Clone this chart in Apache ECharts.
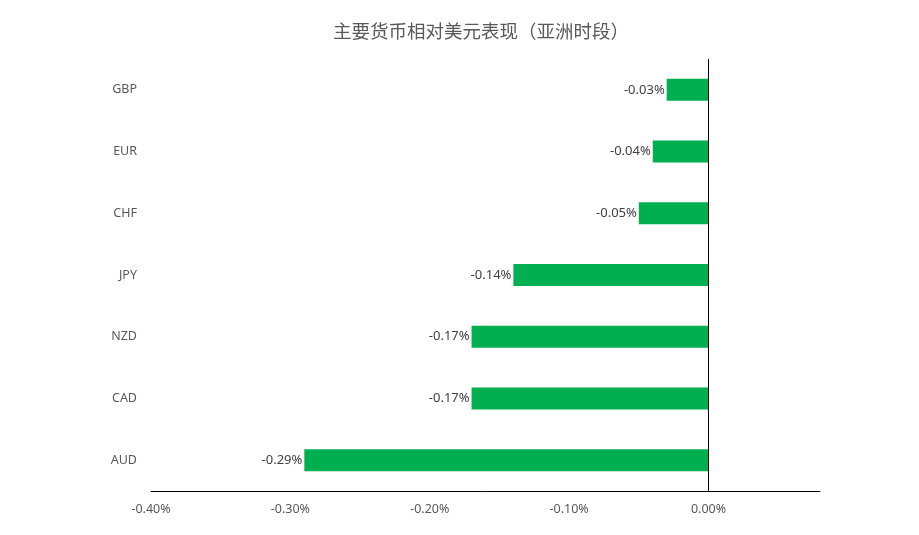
<!DOCTYPE html>
<html lang="zh">
<head>
  <meta charset="UTF-8">
  <title>主要货币相对美元表现</title>
  <style>
    html, body { margin: 0; padding: 0; background: #fff; }
    #chart { width: 919px; height: 535px; }
  </style>
</head>
<body>
  <script src="https://cdn.jsdelivr.net/npm/echarts@6/dist/echarts.min.js"></script>
  <div id="chart"></div>
  <script>
    // 数据（自下而上）
    var currencies = ['AUD', 'CAD', 'NZD', 'JPY', 'CHF', 'EUR', 'GBP']
    var changes = [-0.29, -0.17, -0.17, -0.14, -0.05, -0.04, -0.03]
    var xTicks = [-0.4, -0.3, -0.2, -0.1, 0]

    var fontFam = "'Noto Sans', 'Noto Sans CJK SC', sans-serif"
    let chart = echarts.init(document.getElementById('chart'))

    let option = {
      backgroundColor: '#fff',
      animation: false,
      title: {
        text: '主要货币相对美元表现（亚洲时段）',
        left: 328,
        top: 17,
        textStyle: {
          color: '#595959',
          fontSize: 18.5,
          fontWeight: 'normal',
          fontFamily: "'Noto Sans CJK SC', sans-serif"
        }
      },
      grid: {
        left: 151,
        right: 99,
        top: 59,
        bottom: 44,
        containLabel: false
      },
      xAxis: {
        type: 'value',
        min: -0.4,
        max: 0.08,
        interval: 0.1,
        axisLine: { show: true, onZero: false, lineStyle: { color: '#000', width: 1 } },
        axisTick: { show: false },
        splitLine: { show: false },
        axisLabel: {
          color: '#595959',
          fontSize: 12.5,
          fontFamily: fontFam,
          margin: 12,
          showMaxLabel: false,
          formatter: function (v) {
            var hit = xTicks.some(function (t) { return Math.abs(t - v) < 1e-9 })
            return hit ? v.toFixed(2) + '%' : ''
          }
        }
      },
      yAxis: {
        type: 'category',
        data: currencies,
        axisLine: { show: false },
        axisTick: { show: false },
        splitLine: { show: false },
        axisLabel: {
          color: '#595959',
          fontSize: 12.5,
          fontFamily: fontFam,
          margin: 14
        }
      },
      series: [{
        type: 'bar',
        data: changes,
        barWidth: 22,
        itemStyle: { color: '#00b050' },
        label: {
          show: true,
          position: 'left',
          distance: 2,
          color: '#404040',
          fontSize: 13,
          fontFamily: fontFam,
          formatter: function (p) { return p.value.toFixed(2) + '%' }
        },
        markLine: {
          silent: true,
          symbol: 'none',
          label: { show: false },
          lineStyle: { color: '#000', width: 1, type: 'solid' },
          data: [{ xAxis: 0 }]
        }
      }]
    }
    chart.setOption(option)
  </script>
</body>
</html>
